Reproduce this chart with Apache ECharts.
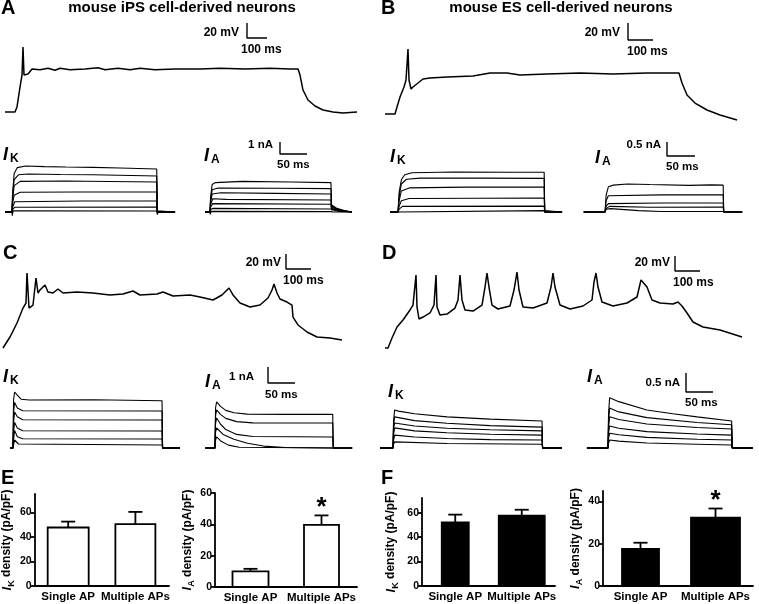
<!DOCTYPE html>
<html><head><meta charset="utf-8">
<script src="https://cdn.jsdelivr.net/npm/echarts@6/dist/echarts.min.js"></script>
<style>html,body{margin:0;padding:0;background:#fff}#c{width:759px;height:604px}</style>
</head><body><div id="c"></div>
<script>
// ================= DATA =================
// Voltage traces: [time (ms), membrane potential (mV)]
const voltA = [[0,-70],[50,-70],[60,-63.3],[75,-36.7],[85,-20.7],[90,16.7],[95,-20.7],[105,-23.3],[115,-19.3],[135,-12.7],[175,-13.7],[215,-11.7],[250,-14.3],[275,-11.7],[325,-13.7],[400,-12.7],[465,-11],[500,-13.7],[565,-11.7],[625,-13.7],[675,-11.7],[750,-13.7],[850,-12.7],[975,-12.7],[1075,-11.7],[1200,-12.7],[1325,-11.7],[1425,-12.7],[1465,-12.7],[1475,-20.7],[1490,-40.7],[1515,-54],[1550,-62],[1590,-67.3],[1640,-70],[1690,-71.3],[1760,-70]];
const voltB = [[0,-70],[40,-70],[48,-61.8],[60,-50],[76,-38.2],[84,-30],[92,6.4],[96,-30],[104,-40.6],[112,-38.2],[132,-33.5],[152,-28.8],[180,-27.6],[248,-26.5],[352,-25.3],[420,-21.8],[488,-21.8],[540,-24.1],[648,-23],[780,-21.8],[912,-23],[1048,-21.8],[1128,-21.8],[1176,-21.8],[1188,-33.5],[1208,-47.7],[1240,-57.1],[1288,-65.3],[1340,-71.2],[1408,-77]];
const voltC = [[0,-70],[8,-68.7],[28,-55.3],[56,-36.7],[80,-16.7],[92,-10],[96,30],[104,-16.7],[112,-15.3],[120,-12.7],[132,23.3],[140,3.3],[148,7.3],[168,14],[180,4.7],[200,3.3],[220,8.7],[240,3.3],[296,4.7],[360,3.3],[428,0.7],[480,2],[520,6],[548,0.7],[616,2],[640,4.7],[680,-0.7],[748,0.7],[788,-2],[840,-6],[876,0.7],[904,10],[920,0.7],[948,-10],[988,-15.3],[1028,-12.7],[1060,-3.3],[1076,7.3],[1084,15.3],[1096,3.3],[1108,-4.7],[1136,-8.7],[1156,-12.7],[1160,-28.7],[1180,-39.3],[1216,-48.7],[1256,-55.3],[1308,-56.7],[1356,-59.3]];
const voltD = [[0,-70],[12,-70],[28,-56.7],[48,-42],[72,-32.7],[100,-19.3],[112,-12.7],[124,27.3],[128,-15.3],[136,-31.3],[152,-28.7],[180,-23.3],[196,-12.7],[204,27.3],[208,-15.3],[220,-26],[248,-24.7],[280,-16.7],[292,-6],[300,27.3],[308,-6],[320,-19.3],[352,-20.7],[388,-12.7],[400,11.3],[408,30],[416,11.3],[428,-12.7],[452,-18],[500,-14],[516,7.3],[528,31.3],[536,7.3],[552,-15.3],[592,-16.7],[648,-10],[664,11.3],[672,30],[680,11.3],[700,-12.7],[740,-18],[792,-14],[828,-6],[836,18],[844,30],[852,11.3],[868,-8.7],[912,-14],[968,-10],[1008,-2],[1024,20.7],[1032,23.3],[1048,11.3],[1068,-6],[1100,-10],[1152,-11.3],[1172,-8.7],[1188,-14],[1208,-23.3],[1232,-35.3],[1272,-42],[1340,-46],[1428,-55.3]];

// Current families: each trace [time (ms), current (nA)]
const iKA = [
 [[-13,0],[0,0],[1,1.5],[4,3.2],[10,3.7],[25,3.83],[60,3.78],[100,3.75],[150,3.72],[200,3.67],[268,3.58],[269,0.1],[302,0]],
 [[-13,0],[0,0],[1,1.3],[4,2.7],[12,3.1],[30,3.17],[90,3.12],[150,3.1],[268,3.0],[269,0.05],[302,0]],
 [[-13,0],[0,0],[1,1.0],[4,2.2],[15,2.55],[100,2.58],[180,2.54],[268,2.5],[269,0],[302,0]],
 [[-13,0],[0,0],[1,0.7],[4,1.4],[15,1.65],[120,1.67],[268,1.67],[269,0],[302,0]],
 [[-13,0],[0,0],[1,0.4],[5,0.85],[130,0.92],[268,0.92],[269,0],[302,0]],
 [[-13,0],[0,0],[1,0.2],[5,0.4],[268,0.42],[269,0],[302,0]],
 [[-13,0],[0,0],[0.5,-0.3],[2,0.1],[268,0.08],[269,-0.2],[271,0],[302,0]]
];
const iAA = [
 [[-9,0],[0,0],[1,1.2],[4,2.3],[10,2.45],[60,2.55],[150,2.5],[224,2.45],[225,0.6],[235,0.3],[250,0.1],[263,0]],
 [[-9,0],[0,0],[1,1.0],[4,1.85],[15,2.0],[120,1.98],[224,1.95],[225,0.5],[235,0.25],[250,0.08],[263,0]],
 [[-9,0],[0,0],[1,0.8],[4,1.5],[20,1.6],[120,1.55],[224,1.5],[225,0.4],[240,0.15],[263,0]],
 [[-9,0],[0,0],[1,0.6],[5,1.1],[30,1.05],[224,1.0],[225,0.3],[240,0.1],[263,0]],
 [[-9,0],[0,0],[1,0.4],[5,0.7],[224,0.65],[225,0.2],[240,0.05],[263,0]],
 [[-9,0],[0,0],[1,0.2],[5,0.3],[224,0.25],[225,0.1],[263,0]],
 [[-9,0],[0,0],[0.5,-0.2],[2,0.05],[224,0.03],[225,-0.1],[228,0],[263,0]]
];
const iKB = [
 [[-14,0],[0,0],[2,0.7],[6,1.15],[12,1.33],[25,1.4],[100,1.43],[200,1.42],[261,1.42],[262,0],[293,0]],
 [[-14,0],[0,0],[2,0.55],[6,1.0],[15,1.17],[40,1.21],[150,1.21],[261,1.2],[262,0],[293,0]],
 [[-14,0],[0,0],[2,0.4],[6,0.75],[20,0.86],[120,0.89],[261,0.89],[262,0],[293,0]],
 [[-14,0],[0,0],[2,0.2],[6,0.4],[20,0.48],[261,0.5],[262,0],[293,0]],
 [[-14,0],[0,0],[2,0.1],[8,0.2],[261,0.21],[262,0],[293,0]],
 [[-14,0],[0,0],[2,0.03],[261,0.05],[262,0],[293,0]]
];
const iAB = [
 [[-38,0],[0,0],[2,0.6],[6,0.9],[15,0.96],[40,1.0],[80,0.98],[150,0.95],[190,0.97],[211,0.96],[212,0],[245,0]],
 [[-38,0],[0,0],[2,0.4],[6,0.58],[100,0.61],[211,0.61],[212,0],[245,0]],
 [[-38,0],[0,0],[2,0.2],[6,0.3],[100,0.32],[211,0.32],[212,0],[245,0]],
 [[-38,0],[0,0],[2,0.12],[8,0.2],[80,0.17],[211,0.18],[212,0],[245,0]],
 [[-38,0],[0,0],[2,0.1],[10,0.12],[60,0.05],[100,0.02],[211,0.02],[212,0],[245,0]]
];
const iKC = [
 [[-5,0],[0,0],[1,3.0],[3,3.5],[8,3.3],[15,3.05],[30,3.0],[150,3.02],[276,2.95],[277,0],[309,0]],
 [[-5,0],[0,0],[1,2.2],[3,2.85],[8,2.5],[18,2.33],[276,2.31],[277,0],[309,0]],
 [[-5,0],[0,0],[1,1.6],[3,2.25],[8,1.95],[18,1.77],[276,1.75],[277,0],[309,0]],
 [[-5,0],[0,0],[1,1.0],[3,1.6],[8,1.25],[18,1.08],[276,1.06],[277,0],[309,0]],
 [[-5,0],[0,0],[1,0.5],[3,1.1],[8,0.7],[18,0.58],[276,0.56],[277,0],[309,0]],
 [[-5,0],[0,0],[1,0.2],[3,0.5],[10,0.25],[276,0.19],[277,0],[309,0]]
];
const iAC = [
 [[-18,0],[0,0],[1,2.5],[3,2.88],[10,2.6],[20,2.35],[35,2.2],[60,2.12],[130,2.1],[218,2.1],[219,0],[254,0]],
 [[-18,0],[0,0],[1,2.0],[3,2.38],[10,2.1],[20,1.85],[40,1.65],[70,1.57],[218,1.56],[219,0],[254,0]],
 [[-18,0],[0,0],[1,1.5],[3,1.88],[10,1.5],[20,1.15],[40,0.85],[70,0.72],[218,0.69],[219,0],[254,0]],
 [[-18,0],[0,0],[1,1.0],[3,1.25],[15,0.85],[35,0.55],[60,0.3],[90,0.12],[130,0.03],[218,0],[254,0]],
 [[-18,0],[0,0],[1,0.5],[3,0.69],[12,0.4],[25,0.18],[45,0.05],[218,0],[254,0]]
];
const iKD = [
 [[-24,0],[0,0],[1,0.7],[3,1.0],[10,0.97],[40,0.9],[100,0.82],[180,0.76],[276,0.71],[277,0],[313,0]],
 [[-24,0],[0,0],[1,0.6],[3,0.82],[40,0.72],[100,0.65],[180,0.59],[276,0.55],[277,0],[313,0]],
 [[-24,0],[0,0],[1,0.5],[3,0.66],[40,0.58],[100,0.52],[180,0.48],[276,0.45],[277,0],[313,0]],
 [[-24,0],[0,0],[1,0.35],[3,0.53],[40,0.45],[100,0.4],[180,0.36],[276,0.34],[277,0],[313,0]],
 [[-24,0],[0,0],[1,0.2],[3,0.34],[40,0.29],[100,0.25],[180,0.22],[276,0.21],[277,0],[313,0]],
 [[-24,0],[0,0],[1,0.1],[3,0.16],[100,0.12],[276,0.1],[277,0],[313,0]]
];
const iAD = [
 [[-39,0],[0,0],[1,0.9],[3,1.32],[20,1.22],[72,1.0],[120,0.9],[165,0.82],[229,0.71],[230,0],[268,0]],
 [[-39,0],[0,0],[1,0.7],[3,1.05],[20,0.95],[72,0.8],[165,0.67],[229,0.61],[230,0],[268,0]],
 [[-39,0],[0,0],[1,0.55],[3,0.82],[20,0.75],[72,0.63],[165,0.54],[229,0.5],[230,0],[268,0]],
 [[-39,0],[0,0],[1,0.4],[3,0.58],[20,0.52],[72,0.43],[165,0.37],[229,0.34],[230,0],[268,0]],
 [[-39,0],[0,0],[1,0.25],[3,0.39],[20,0.35],[72,0.28],[165,0.23],[229,0.21],[230,0],[268,0]],
 [[-39,0],[0,0],[1,0.12],[3,0.21],[20,0.18],[72,0.13],[165,0.1],[229,0.08],[230,0],[268,0]]
];

// Scale bars
const vBarMv = 20, vBarMs = 100;
const iBarNa = [1, 0.5, 1, 0.5];
const iBarMs = 50;

// Bar charts (density, pA/pF): mean and SEM
const barCats = ['Single AP', 'Multiple APs'];
const ikIPS = [47.7, 50.4], ikIPSErr = [4.8, 10.0];
const iaIPS = [10.0, 39.7], iaIPSErr = [1.6, 6.0];
const ikES = [52.0, 57.6], ikESErr = [6.4, 4.8];
const iaES = [17.6, 32.4], iaESErr = [2.9, 4.3];
const sigIK = ['', ''], sigIA = ['', '*'];
const ticksE1 = [0,20,40,60], ticksE2 = [0,20,40,60], ticksF1 = [0,20,40,60], ticksF2 = [0,20,40];

// ================= CHART =================
const FF = '"Liberation Sans", Arial, Helvetica, sans-serif';
const chart = echarts.init(document.getElementById('c'), null, {renderer:'canvas', width:759, height:604});
const grids = [], xAxes = [], yAxes = [], series = [], graphics = [];

function traceGrid(box, x0, y0, ref, xPerPx, yPerPx) {
  const gi = grids.length;
  grids.push({left: box[0], top: box[1], width: box[2], height: box[3]});
  const xMin = (box[0] - x0) * xPerPx, xMax = xMin + box[2] * xPerPx;
  const yMax = ref + (y0 - box[1]) * yPerPx, yMin = yMax - box[3] * yPerPx;
  xAxes.push({gridIndex: gi, type: 'value', min: xMin, max: xMax, show: false});
  yAxes.push({gridIndex: gi, type: 'value', min: yMin, max: yMax, show: false});
  return {gi, toData: (px, py) => [xMin + (px - box[0]) * xPerPx, yMax - (py - box[1]) * yPerPx]};
}
function addTraces(g, traces, lw) {
  traces.forEach(tr => series.push({
    type: 'line', xAxisIndex: g.gi, yAxisIndex: g.gi, data: tr, symbol: 'none', showSymbol: false,
    lineStyle: {color: '#000', width: lw}, silent: true, animation: false, clip: false
  }));
}
function scaleBar(g, ax, ay, yLen, xLen) {
  const p = g.toData(ax, ay);
  series.push({
    type: 'line', xAxisIndex: g.gi, yAxisIndex: g.gi,
    data: [[p[0], p[1] + yLen], [p[0], p[1]], [p[0] + xLen, p[1]]],
    symbol: 'none', showSymbol: false, lineStyle: {color: '#000', width: 1.4}, silent: true, animation: false, clip: false
  });
}
function txt(text, x, y, size, align, italic) {
  graphics.push({type: 'text', x: x, y: y, silent: true, style: {
    text: text, fill: '#000', font: (italic ? 'italic ' : '') + 'bold ' + size + 'px ' + FF,
    textAlign: align || 'left', textVerticalAlign: 'middle'}});
}
function iLabel(x, y, sub) { txt('I', x, y, 18, 'left', true); txt(sub, x + 7, y + 3.5, 12, 'left', false); }

// Voltage panels
const gA = traceGrid([0, 15, 365, 110], 5, 112, -70, 5, 4/3);
addTraces(gA, [voltA], 1.5); scaleBar(gA, 247, 38, vBarMv, vBarMs);
const gB = traceGrid([380, 15, 370, 115], 385, 114, -70, 4, 20/17);
addTraces(gB, [voltB], 1.5); scaleBar(gB, 628, 40, vBarMv, vBarMs);
const gC = traceGrid([0, 240, 365, 120], 3, 348, -70, 4, 4/3);
addTraces(gC, [voltC], 1.5); scaleBar(gC, 286, 269, vBarMv, vBarMs);
const gD = traceGrid([380, 240, 370, 120], 385, 348, -70, 4, 4/3);
addTraces(gD, [voltD], 1.5); scaleBar(gD, 675, 271, vBarMv, vBarMs);

// Current panels
const gAK = traceGrid([0, 130, 190, 95], 12, 212, 0, 50/27, 1/12); addTraces(gAK, iKA, 1.1);
const gAA = traceGrid([195, 130, 170, 95], 210, 212, 0, 50/27, 1/12); addTraces(gAA, iAA, 1.1);
scaleBar(gAA, 280, 154, iBarNa[0], iBarMs);
const gBK = traceGrid([380, 130, 190, 95], 398, 212, 0, 50/28, 0.5/14); addTraces(gBK, iKB, 1.1);
const gBA = traceGrid([570, 130, 185, 95], 605, 212, 0, 50/28, 0.5/14); addTraces(gBA, iAB, 1.1);
scaleBar(gBA, 667, 156, iBarNa[1], iBarMs);
const gCK = traceGrid([0, 360, 190, 95], 13, 448, 0, 50/27, 1/16); addTraces(gCK, iKC, 1.1);
const gCA = traceGrid([195, 360, 170, 95], 215, 448, 0, 50/27, 1/16); addTraces(gCA, iAC, 1.1);
scaleBar(gCA, 268, 383, iBarNa[2], iBarMs);
const gDK = traceGrid([380, 360, 190, 95], 393, 448, 0, 50/27, 0.5/19); addTraces(gDK, iKD, 1.1);
const gDA = traceGrid([570, 360, 185, 95], 608, 448, 0, 50/27, 0.5/19); addTraces(gDA, iAD, 1.1);
scaleBar(gDA, 686, 392, iBarNa[3], iBarMs);

// Bar charts
function barChart(box, yMax, ticks, vals, errs, sig, filled, barW, sub, nameGap) {
  const gi = grids.length;
  grids.push({left: box[0], top: box[1], width: box[2], height: box[3]});
  const axLine = {show: true, lineStyle: {color: '#000', width: 1.8}};
  xAxes.push({gridIndex: gi, type: 'category', data: barCats, axisLine: axLine, axisTick: {show: false},
    axisLabel: {color: '#000', fontWeight: 'bold', fontSize: 11.5, fontFamily: FF, margin: 5, interval: 0}});
  yAxes.push({gridIndex: gi, type: 'value', min: 0, max: yMax, axisLine: axLine, splitLine: {show: false},
    axisTick: {show: true, length: 4, customValues: ticks, lineStyle: {color: '#000', width: 1.8}},
    axisLabel: {customValues: ticks, color: '#000', fontWeight: 'bold', fontSize: 10.5, fontFamily: FF, margin: 3},
    name: '{i|I}{s|' + sub + '}{t| density (pA/pF)}', nameLocation: 'middle', nameRotate: 90, nameGap: nameGap,
    nameTextStyle: {rich: {
      i: {fontStyle: 'italic', fontWeight: 'bold', fontSize: 13, fontFamily: FF, color: '#000', lineHeight: 15, verticalAlign: 'top'},
      s: {fontWeight: 'bold', fontSize: 9, fontFamily: FF, color: '#000', lineHeight: 10, verticalAlign: 'bottom'},
      t: {fontWeight: 'bold', fontSize: 12, fontFamily: FF, color: '#000', lineHeight: 15, verticalAlign: 'top'}
    }}});
  series.push({
    type: 'custom', xAxisIndex: gi, yAxisIndex: gi, silent: true, animation: false,
    data: vals.map((v, i) => [i, v, errs[i]]),
    renderItem: function (params, api) {
      const i = api.value(0), v = api.value(1), e = api.value(2);
      const b = api.coord([i, 0]), t = api.coord([i, v]), et = api.coord([i, v + e]);
      const w = barW[i], cx = t[0];
      const st = {stroke: '#000', lineWidth: 1.8};
      return {type: 'group', children: [
        {type: 'line', shape: {x1: cx, y1: t[1], x2: cx, y2: et[1]}, style: st},
        {type: 'line', shape: {x1: cx - 7, y1: et[1], x2: cx + 7, y2: et[1]}, style: st},
        {type: 'rect', shape: {x: cx - w / 2, y: t[1], width: w, height: b[1] - t[1]},
          style: {fill: filled ? '#000' : '#fff', stroke: '#000', lineWidth: 1.8}},
        {type: 'text', x: cx, y: et[1] + 5, style: {text: sig[i], fill: '#000',
          font: 'bold 26px ' + FF, textAlign: 'center', textVerticalAlign: 'bottom'}}
      ]};
    }
  });
}
barChart([31, 494, 138, 92], 75, ticksE1, ikIPS, ikIPSErr, sigIK, false, [41, 40], 'K', 12);
barChart([215, 493, 142, 94], 60, ticksE2, iaIPS, iaIPSErr, sigIA, false, [36, 35], 'A', 14);
barChart([422, 498, 133, 88], 72, ticksF1, ikES, ikESErr, sigIK, true, [27, 46], 'K', 22);
barChart([603, 491, 150, 95], 45, ticksF2, iaES, iaESErr, sigIA, true, [37, 49], 'A', 14);

// Text annotations
txt('A', 1, 8, 20); txt('B', 381, 8, 20); txt('C', 3, 253, 20); txt('D', 382, 253, 20);
txt('E', 1, 478, 20); txt('F', 381, 478, 20);
txt('mouse iPS cell-derived neurons', 182, 8, 15, 'center');
txt('mouse ES cell-derived neurons', 561, 8, 15, 'center');
txt('20 mV', 239, 33, 12, 'right'); txt('100 ms', 241, 50, 12);
txt('20 mV', 620, 33, 12, 'right'); txt('100 ms', 627, 52, 12);
txt('20 mV', 281, 263, 12, 'right'); txt('100 ms', 283, 281, 12);
txt('20 mV', 670, 263, 12, 'right'); txt('100 ms', 673, 283, 12);
txt('1 nA', 273, 145, 11.5, 'right'); txt('50 ms', 277, 165, 11.5);
txt('0.5 nA', 661, 145, 11.5, 'right'); txt('50 ms', 666, 167, 11.5);
txt('1 nA', 254, 377, 11.5, 'right'); txt('50 ms', 265, 395, 11.5);
txt('0.5 nA', 680, 383, 11.5, 'right'); txt('50 ms', 685, 403, 11.5);
iLabel(3, 155, 'K'); iLabel(204, 156, 'A');
iLabel(390, 157, 'K'); iLabel(595, 158, 'A');
iLabel(3, 377, 'K'); iLabel(205, 382, 'A');
iLabel(388, 392, 'K'); iLabel(587, 377, 'A');

chart.setOption({animation: false, backgroundColor: '#fff', grid: grids, xAxis: xAxes, yAxis: yAxes, series: series, graphic: graphics});
</script>
</body></html>
